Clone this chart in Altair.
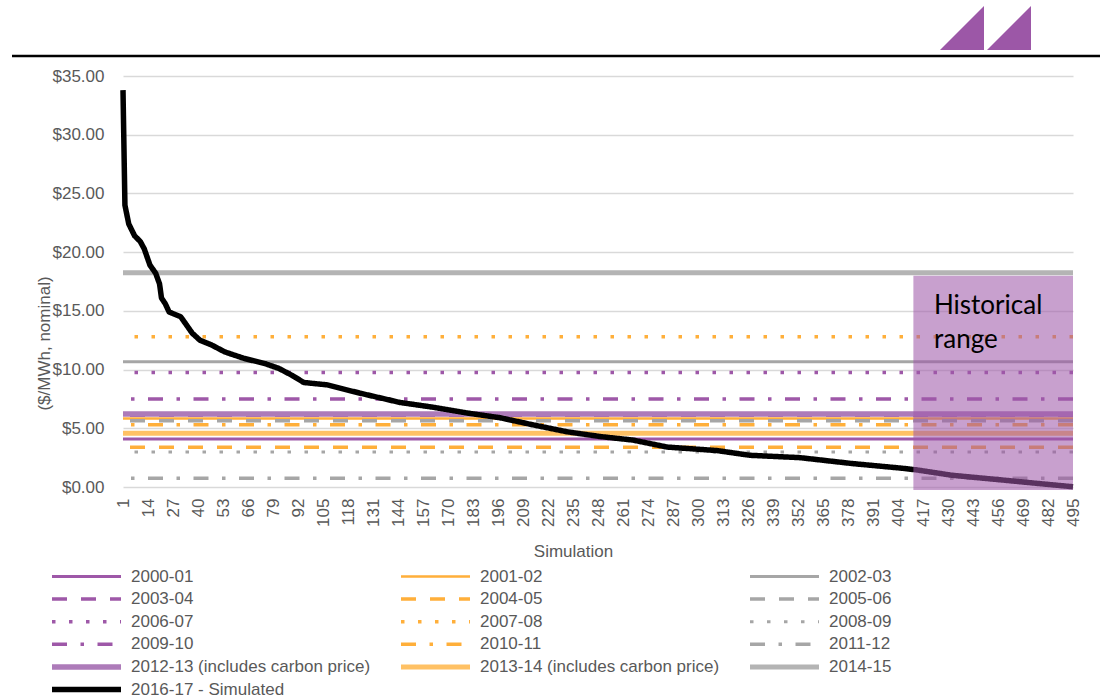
import altair as alt
import pandas as pd

# Average annual price for each historical financial year ($/MWh, nominal)
years = ["2000-01", "2001-02", "2002-03", "2003-04", "2004-05", "2005-06",
         "2006-07", "2007-08", "2008-09", "2009-10", "2010-11", "2011-12",
         "2012-13 (includes carbon price)", "2013-14 (includes carbon price)",
         "2014-15"]
year_prices = [4.08, 5.84, 10.66, 6.10, 3.38, 5.64, 9.76, 12.79, 2.98, 7.49,
               5.30, 0.74, 6.21, 4.57, 18.24]

# Simulated 2016-17 outcomes, ranked from highest to lowest
sim_label = "2016-17 - Simulated"
sim_run = [1, 2, 4, 7, 10, 12, 15, 18, 20, 21, 23, 25, 31, 34, 37, 41, 47, 54,
           64, 75, 82, 89, 95, 107, 124, 145, 162, 180, 197, 214, 232, 249,
           266, 284, 310, 327, 353, 380, 406, 414, 432, 458, 475, 495]
sim_price = [33.8, 24.0, 22.4, 21.4, 20.9, 20.3, 18.9, 18.2, 17.3, 16.1, 15.6,
             14.9, 14.5, 13.8, 13.1, 12.5, 12.1, 11.5, 10.95, 10.5, 10.1, 9.5,
             8.9, 8.7, 8.0, 7.2, 6.8, 6.3, 5.9, 5.3, 4.7, 4.3, 4.0, 3.4, 3.1,
             2.7, 2.5, 2.0, 1.6, 1.45, 1.0, 0.6, 0.33, 0.02]

# Historical range band: simulation runs and price span
hist_runs = [412, 495]
hist_prices = [-0.25, 18.0]

x_ticks = [1, 14, 27, 40, 53, 66, 79, 92, 105, 118, 131, 144, 157, 170, 183,
           196, 209, 222, 235, 248, 261, 274, 287, 300, 313, 326, 339, 352,
           365, 378, 391, 404, 417, 430, 443, 456, 469, 482, 495]
y_ticks = [0, 5, 10, 15, 20, 25, 30, 35]

# Line styles per series
PURPLE, PURPLE_L = "#9E58A8", "#AD7BB9"
ORANGE, ORANGE_L = "#FFAF3A", "#FFC164"
GRAY, GRAY_L = "#A6A6A6", "#B4B4B4"
SOLID = [1, 0]
DASH = [15, 14]
DOT = [3.5, 13.5]
DASHDOT = [15, 13.5, 3.5, 13.5]

styles = {
    "2000-01": (PURPLE, SOLID, 3),
    "2001-02": (ORANGE, SOLID, 2.5),
    "2002-03": (GRAY, SOLID, 3),
    "2003-04": (PURPLE, DASH, 3.5),
    "2004-05": (ORANGE, DASH, 3.5),
    "2005-06": (GRAY, DASH, 3.5),
    "2006-07": (PURPLE, DOT, 3.5),
    "2007-08": (ORANGE, DOT, 3.5),
    "2008-09": (GRAY, DOT, 3),
    "2009-10": (PURPLE, DASHDOT, 3.5),
    "2010-11": (ORANGE, DASHDOT, 3.5),
    "2011-12": (GRAY, DASHDOT, 3.5),
    "2012-13 (includes carbon price)": (PURPLE_L, SOLID, 5.5),
    "2013-14 (includes carbon price)": (ORANGE_L, SOLID, 5),
    "2014-15": (GRAY_L, SOLID, 5),
    sim_label: ("#000000", SOLID, 5.5),
}
series_order = years + [sim_label]

years_df = pd.DataFrame({"series": years, "price": year_prices})
sim_df = pd.DataFrame({"series": sim_label, "sim": sim_run, "price": sim_price})
band_df = pd.DataFrame({"x1": [hist_runs[0]], "x2": [hist_runs[1]],
                        "y1": [hist_prices[0]], "y2": [hist_prices[1]]})
note_df = pd.DataFrame({"sim": [422.7], "price": [14.72],
                        "label": [["Historical", "range"]]})
one_df = pd.DataFrame({"k": [0]})

TXT = "#595959"
FONT = "Liberation Sans"

legend = alt.Legend(
    title=None, orient="none", legendX=-74, legendY=490, columns=3,
    direction="horizontal",
    symbolType="stroke", symbolSize=4761, clipHeight=21, rowPadding=1.6,
    columnPadding=27, gridAlign="all", labelOffset=7, labelFontSize=17,
    labelColor=TXT, labelFont=FONT, labelLimit=400, padding=0,
)

color_enc = alt.Color("series:N", legend=legend, scale=alt.Scale(
    domain=series_order, range=[styles[s][0] for s in series_order]))
dash_enc = alt.StrokeDash("series:N", legend=legend, scale=alt.Scale(
    domain=series_order, range=[styles[s][1] for s in series_order]))
width_enc = alt.StrokeWidth("series:N", legend=legend, scale=alt.Scale(
    type="ordinal", domain=series_order,
    range=[styles[s][2] for s in series_order]))

x_scale = alt.Scale(domain=[1, 495], nice=False, zero=False)
y_scale = alt.Scale(domain=[0, 35], nice=False, zero=False)

x_axis = alt.Axis(
    values=x_ticks, tickCount=60, format="d", labelAngle=270, labelPadding=11,
    ticks=False, domain=False, grid=False, labelFontSize=17, labelColor=TXT,
    labelFont=FONT, labelOverlap=False, title="Simulation", titleFontSize=17,
    titleFontWeight="normal", titleColor=TXT, titleFont=FONT, titleX=450,
    titleY=64, titleBaseline="middle", titleAlign="center",
)
y_axis = alt.Axis(
    values=y_ticks, format="$.2f", ticks=False, domain=False, grid=True,
    gridColor="#D9D9D9", gridWidth=1.5, labelPadding=19, labelFontSize=17,
    labelColor=TXT, labelFont=FONT, title="($/MWh, nominal)",
    titleFontSize=17, titleFontWeight="normal", titleColor=TXT,
    titleFont=FONT, titleAngle=270, titleX=-79, titleY=267,
    titleAlign="center", titleBaseline="middle",
)

year_rules = alt.Chart(years_df).mark_rule().encode(
    y=alt.Y("price:Q", scale=y_scale, axis=y_axis),
    color=color_enc, strokeDash=dash_enc, strokeWidth=width_enc,
)

sim_line = alt.Chart(sim_df).mark_line(strokeJoin="round").encode(
    x=alt.X("sim:Q", scale=x_scale, axis=x_axis),
    y=alt.Y("price:Q", scale=y_scale),
    color=color_enc, strokeDash=dash_enc, strokeWidth=width_enc,
)

band = alt.Chart(band_df).mark_rect(color=PURPLE, opacity=0.57).encode(
    x="x1:Q", x2="x2:Q", y="y1:Q", y2="y2:Q",
)

note = alt.Chart(note_df).mark_text(
    align="left", baseline="alphabetic", font="Lato", fontSize=26,
    lineHeight=34, color="#000000",
).encode(x="sim:Q", y="price:Q", text="label")

# Header rule and corner logo
header = alt.Chart(one_df).mark_rule(color="#000000", strokeWidth=2.5).encode(
    x=alt.value(-111), x2=alt.value(977), y=alt.value(-20),
)
tri = "M -1 1 L 1 1 L 1 -1 Z"
logo_a = alt.Chart(one_df).mark_point(
    shape=tri, filled=True, size=1936, color="#9C57A7", opacity=1,
).encode(x=alt.value(839), y=alt.value(-48))
logo_b = alt.Chart(one_df).mark_point(
    shape=tri, filled=True, size=1936, color="#9C57A7", opacity=1,
).encode(x=alt.value(886), y=alt.value(-48))

chart = alt.layer(
    year_rules, sim_line, band, note, header, logo_a, logo_b
).properties(
    width=950, height=411,
    autosize=alt.AutoSizeParams(type="none"),
    padding={"left": 123, "top": 76, "right": 27, "bottom": 209},
).configure(font=FONT).configure_view(strokeWidth=0)

chart.save("out.html", embed_options={"renderer": "svg", "actions": False})
